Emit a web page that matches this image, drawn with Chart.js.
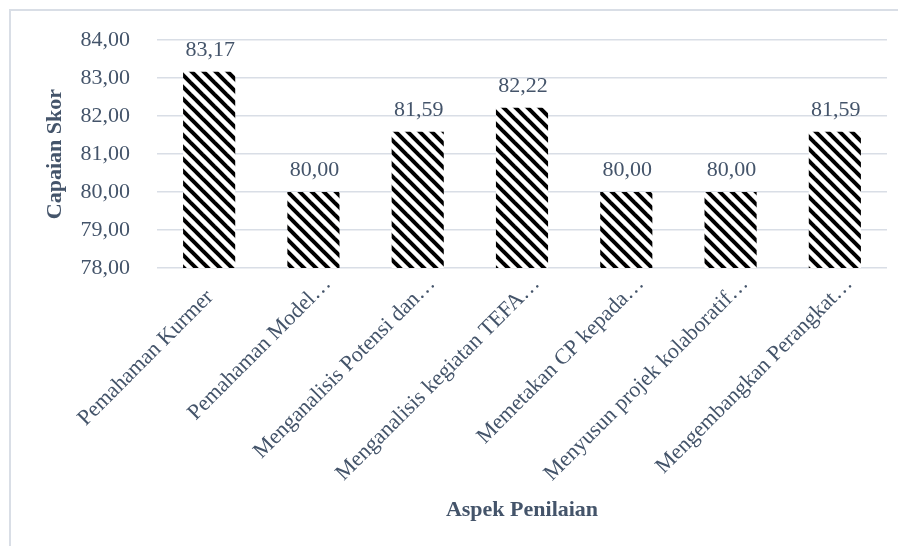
<!DOCTYPE html>
<html>
<head>
<meta charset="utf-8">
<script src="https://cdn.jsdelivr.net/npm/chart.js@4.4.1/dist/chart.umd.min.js"></script>
<style>
  html, body { margin: 0; padding: 0; background: #ffffff; }
  #wrap { position: relative; width: 898px; height: 546px; overflow: hidden; }
  #frame { position: absolute; left: 9px; top: 9px; width: 900px; height: 560px;
           border-left: 2px solid #D9DEE6; border-top: 2px solid #D9DEE6; box-sizing: border-box; }
  canvas { position: absolute; left: 0; top: 0; }
</style>
</head>
<body>
<div id="wrap">
  <div id="frame"></div>
  <canvas id="chart" width="898" height="546"></canvas>
</div>
<script>
// Aspek penilaian (category labels as shown on the axis)
const categories = [
  'Pemahaman Kurmer',
  'Pemahaman Model…',
  'Menganalisis Potensi dan…',
  'Menganalisis kegiatan TEFA…',
  'Memetakan CP kepada…',
  'Menyusun projek kolaboratif…',
  'Mengembangkan Perangkat…'
];
// Capaian skor per aspek
const scores = [83.17, 80.00, 81.59, 82.22, 80.00, 80.00, 81.59];
// Value axis ticks
const yTicks = [78, 79, 80, 81, 82, 83, 84];

const TEXT = '#44546A';
const GRID = '#D9DEE6';
const FONT = '"Liberation Serif", "Times New Roman", serif';

const fmt = v => v.toFixed(2).replace('.', ',');

// Diagonal hatch fill for the bars
function makeHatch() {
  const s = 12;
  const c = document.createElement('canvas');
  c.width = s; c.height = s;
  const g = c.getContext('2d');
  g.fillStyle = '#ffffff';
  g.fillRect(0, 0, s, s);
  g.strokeStyle = '#000000';
  g.lineWidth = 4;
  for (const k of [-s, 0, s]) {
    g.beginPath();
    g.moveTo(k - 2, -2);
    g.lineTo(k + s + 2, s + 2);
    g.stroke();
  }
  return document.getElementById('chart').getContext('2d').createPattern(c, 'repeat');
}

// Value labels above each bar
const valueLabels = {
  id: 'valueLabels',
  afterDatasetsDraw(chart) {
    const ctx = chart.ctx;
    const meta = chart.getDatasetMeta(0);
    ctx.save();
    ctx.font = '22px ' + FONT;
    ctx.fillStyle = TEXT;
    ctx.textAlign = 'center';
    ctx.textBaseline = 'alphabetic';
    meta.data.forEach((bar, i) => {
      ctx.fillText(fmt(scores[i]), bar.x + 1, bar.y - 16);
    });
    ctx.restore();
  }
};

// Category labels at 45°, ending just right of each category centre;
// shortened labels keep room for the trailing ellipsis box.
const categoryLabels = {
  id: 'categoryLabels',
  afterDraw(chart) {
    const ctx = chart.ctx;
    const xs = chart.scales.x;
    const baseY = chart.chartArea.bottom + 30;
    const d = Math.SQRT1_2;
    ctx.save();
    ctx.font = '22px ' + FONT;
    ctx.fillStyle = TEXT;
    ctx.textAlign = 'right';
    ctx.textBaseline = 'alphabetic';
    categories.forEach((lab, i) => {
      const extra = lab.endsWith('…') ? 19 : 0;
      const x = xs.getPixelForValue(i) + 5 + extra * d;
      const y = baseY - extra * d;
      ctx.save();
      ctx.translate(x, y);
      ctx.rotate(-Math.PI / 4);
      ctx.fillText(lab, 0, 0);
      ctx.restore();
    });
    ctx.restore();
  }
};

new Chart(document.getElementById('chart'), {
  type: 'bar',
  data: {
    labels: categories,
    datasets: [{
      data: scores,
      backgroundColor: makeHatch(),
      borderWidth: 0,
      categoryPercentage: 1.0,
      barPercentage: 0.5
    }]
  },
  options: {
    responsive: false,
    animation: false,
    layout: { padding: { left: 0, right: 11, top: 37, bottom: 0 } },
    plugins: { legend: { display: false }, tooltip: { enabled: false } },
    scales: {
      x: {
        grid: { display: false },
        border: { display: false },
        ticks: { display: false },
        title: {
          display: true,
          text: 'Aspek Penilaian',
          color: TEXT,
          font: { family: FONT, size: 22, weight: 'bold' },
          padding: { top: 0, bottom: 22 }
        },
        afterFit(s) { s.height = 278; }
      },
      y: {
        min: yTicks[0],
        max: yTicks[yTicks.length - 1],
        afterBuildTicks(s) { s.ticks = yTicks.map(v => ({ value: v })); },
        grid: { color: GRID, lineWidth: 1.5, drawTicks: false },
        border: { display: false },
        ticks: {
          padding: 27,
          color: TEXT,
          font: { family: FONT, size: 22 },
          callback: v => fmt(v)
        },
        title: {
          display: true,
          text: 'Capaian Skor',
          color: TEXT,
          font: { family: FONT, size: 22, weight: 'bold' },
          padding: { top: 42, bottom: 0 }
        },
        afterFit(s) { s.width = 157; }
      }
    }
  },
  plugins: [valueLabels, categoryLabels]
});
</script>
</body>
</html>
